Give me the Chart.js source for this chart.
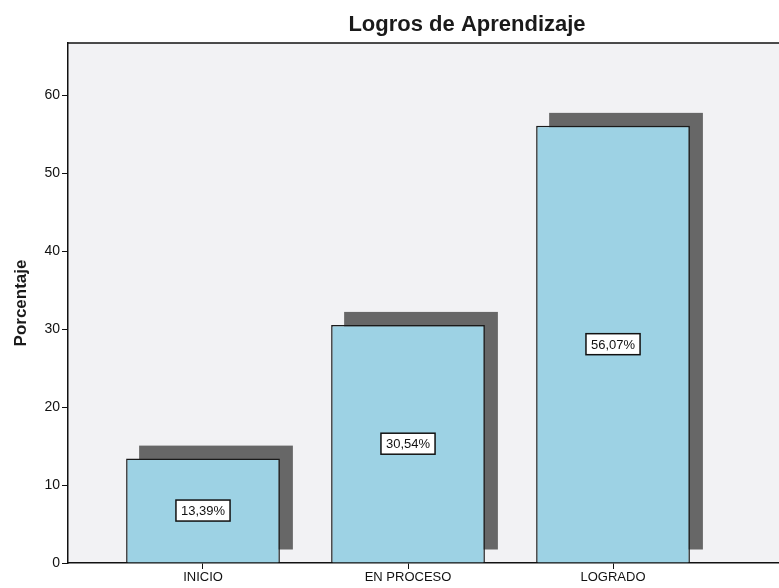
<!DOCTYPE html>
<html>
<head>
<meta charset="utf-8">
<script src="https://cdn.jsdelivr.net/npm/chart.js@4"></script>
<style>
  html, body { margin: 0; padding: 0; background: #fff; overflow: hidden; }
  #wrap { width: 779px; height: 588px; overflow: hidden; }
</style>
</head>
<body>
<div id="wrap"><canvas id="myChart" width="866" height="588"></canvas></div>
<script>
const categories = ['INICIO', 'EN PROCESO', 'LOGRADO'];
const percentages = [13.39, 30.54, 56.07];
const yTicks = [0, 10, 20, 30, 40, 50, 60];

const ctx = document.getElementById('myChart').getContext('2d');
const fontFamily = '"Liberation Sans", Arial, sans-serif';

// plot background + top frame line
const plotFrame = {
    id: 'plotFrame',
    beforeDraw(chart) {
        const { ctx, chartArea } = chart;
        ctx.save();
        ctx.fillStyle = '#f2f2f4';
        ctx.fillRect(chartArea.left, chartArea.top, chartArea.right - chartArea.left, chartArea.bottom - chartArea.top);
        ctx.strokeStyle = '#111';
        ctx.lineWidth = 1.5;
        ctx.beginPath();
        ctx.moveTo(chartArea.left, chartArea.top);
        ctx.lineTo(chartArea.right, chartArea.top);
        ctx.stroke();
        ctx.restore();
    }
};

// dark drop shadow behind each bar
const barShadow = {
    id: 'barShadow',
    beforeDatasetsDraw(chart) {
        const { ctx } = chart;
        const meta = chart.getDatasetMeta(0);
        const off = 13;
        ctx.save();
        ctx.fillStyle = '#676767';
        meta.data.forEach(bar => {
            const { x, y, base, width } = bar.getProps(['x', 'y', 'base', 'width'], true);
            ctx.fillRect(x - width / 2 + off, y - off, width, base - y);
        });
        ctx.restore();
    }
};

// boxed value labels in the middle of each bar
const boxLabels = {
    id: 'boxLabels',
    afterDatasetsDraw(chart) {
        const { ctx } = chart;
        const meta = chart.getDatasetMeta(0);
        ctx.save();
        ctx.font = '13px ' + fontFamily;
        ctx.textAlign = 'center';
        ctx.textBaseline = 'middle';
        meta.data.forEach((bar, i) => {
            const { x, y, base } = bar.getProps(['x', 'y', 'base'], true);
            const text = percentages[i].toFixed(2).replace('.', ',') + '%';
            const cy = (y + base) / 2;
            const w = ctx.measureText(text).width + 10;
            const h = 21;
            ctx.fillStyle = '#fff';
            ctx.fillRect(x - w / 2, cy - h / 2, w, h);
            ctx.strokeStyle = '#111';
            ctx.lineWidth = 1.5;
            ctx.strokeRect(x - w / 2, cy - h / 2, w, h);
            ctx.fillStyle = '#111';
            ctx.fillText(text, x, cy + 1);
        });
        ctx.restore();
    }
};

new Chart(ctx, {
    type: 'bar',
    data: {
        datasets: [{
            label: 'Porcentaje',
            data: percentages.map((v, i) => ({ x: i, y: v })),
            backgroundColor: '#9dd2e4',
            borderColor: '#1a1a1a',
            borderWidth: 1.5,
            barPercentage: 0.75,
            categoryPercentage: 1
        }]
    },
    options: {
        responsive: false,
        animation: false,
        layout: { padding: 0 },
        plugins: {
            legend: { display: false },
            tooltip: { enabled: false },
            title: {
                display: true,
                fullSize: false,
                text: 'Logros de Aprendizaje',
                color: '#1a1a1a',
                font: { family: fontFamily, size: 22, weight: 'bold', lineHeight: 1.2 },
                padding: { top: 12, bottom: 4.6 }
            }
        },
        scales: {
            x: {
                type: 'linear',
                offset: false,
                min: -0.6585,
                max: 3.234,
                afterBuildTicks: scale => {
                    scale.ticks = categories.map((c, i) => ({ value: i }));
                },
                afterFit: scale => { scale.height = 25; },
                ticks: {
                    autoSkip: false,
                    maxRotation: 0,
                    padding: 1,
                    color: '#111',
                    font: { family: fontFamily, size: 13 },
                    callback: value => categories[value]
                },
                grid: {
                    offset: false,
                    drawOnChartArea: false,
                    drawTicks: true,
                    tickLength: 6,
                    color: '#111'
                },
                border: { display: true, color: '#111', width: 1.5 }
            },
            y: {
                min: 0,
                max: 66.7,
                afterBuildTicks: scale => {
                    scale.ticks = yTicks.map(v => ({ value: v }));
                },
                afterFit: scale => { scale.width = 68; },
                ticks: {
                    padding: 2,
                    color: '#111',
                    font: { family: fontFamily, size: 14 }
                },
                grid: {
                    drawOnChartArea: false,
                    drawTicks: true,
                    tickLength: 6,
                    color: '#111'
                },
                border: { display: true, color: '#111', width: 1.5 },
                title: {
                    display: true,
                    text: 'Porcentaje',
                    color: '#1a1a1a',
                    font: { family: fontFamily, size: 17, weight: 'bold' },
                    padding: { top: 11, bottom: 0 }
                }
            }
        }
    },
    plugins: [plotFrame, barShadow, boxLabels]
});
</script>
</body>
</html>
